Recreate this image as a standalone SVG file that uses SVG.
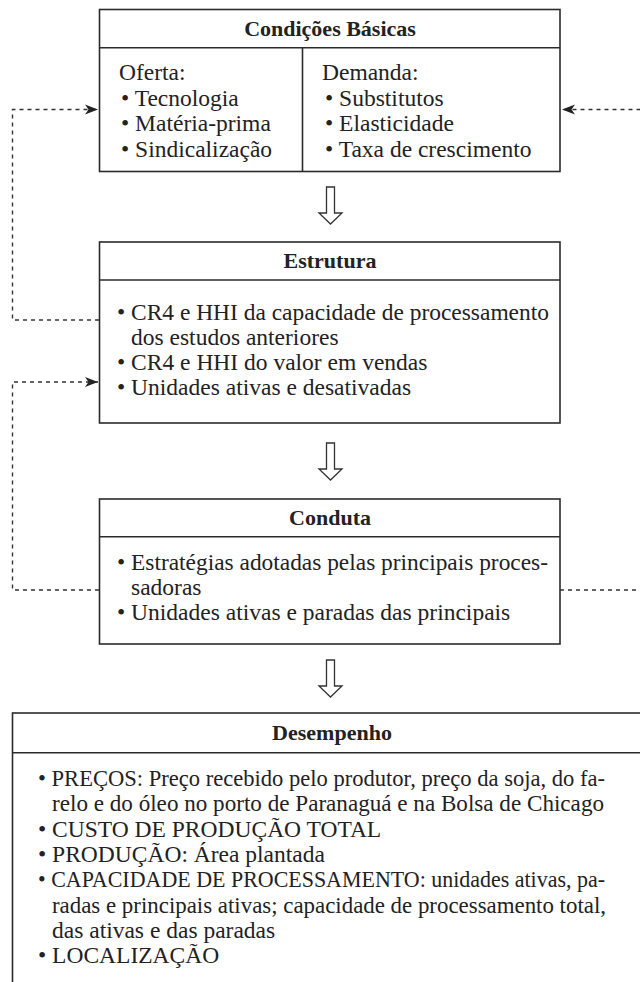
<svg xmlns="http://www.w3.org/2000/svg" width="640" height="982" viewBox="0 0 640 982">
<defs>
<style>
.box{fill:#fff;stroke:#2b2b2b;stroke-width:1.6}
.sep{stroke:#2b2b2b;stroke-width:1.6}
.t{font-family:'Liberation Serif','Times New Roman',serif;font-size:23.5px;fill:#222}
.s{font-size:22.3px}
.h{font-family:'Liberation Serif','Times New Roman',serif;font-size:22px;font-weight:bold;fill:#222;text-anchor:middle}
.dash{fill:none;stroke:#333;stroke-width:1.4;stroke-dasharray:4 4}
.hollow{fill:#fff;stroke:#333;stroke-width:1.3;stroke-linejoin:miter}
</style>
<marker id="ah" markerUnits="userSpaceOnUse" markerWidth="14" markerHeight="11" refX="13" refY="5.5" orient="auto">
<path d="M0,0.5 L13,5.5 L0,10.5 L3.5,5.5 Z" fill="#222"/>
</marker>
</defs>
<rect width="640" height="982" fill="#fff"/>

<g id="connectors">
<path class="dash" d="M99,320 H12.5 V109.5 H98" marker-end="url(#ah)"/>
<path class="dash" d="M99,590 H12.5 V382 H98" marker-end="url(#ah)"/>
<path class="dash" d="M560,590 H660 V109.5 H562" marker-end="url(#ah)"/>
<path class="hollow" d="M326.5,187 H334.5 V213 H342 L330.5,224 L319,213 H326.5 Z"/>
<path class="hollow" d="M326.5,443 H334.5 V469 H342 L330.5,480 L319,469 H326.5 Z"/>
<path class="hollow" d="M326.5,660 H334.5 V686 H342 L330.5,697 L319,686 H326.5 Z"/>
</g>

<g id="condicoes">
<rect class="box" x="99.5" y="9.5" width="460.5" height="162"/>
<line class="sep" x1="99.5" y1="47.7" x2="560" y2="47.7"/>
<line class="sep" x1="302.5" y1="47.7" x2="302.5" y2="171.5"/>
<text class="h" x="330" y="36">Condições Básicas</text>
<text class="t" x="119" y="80">Oferta:</text>
<text class="t" x="121" y="105.5">• Tecnologia</text>
<text class="t" x="121" y="131">• Matéria-prima</text>
<text class="t" x="121" y="156.5">• Sindicalização</text>
<text class="t" x="322" y="80">Demanda:</text>
<text class="t" x="325" y="105.5">• Substitutos</text>
<text class="t" x="325" y="131">• Elasticidade</text>
<text class="t" x="325" y="156.5">• Taxa de crescimento</text>
</g>

<g id="estrutura">
<rect class="box" x="99.5" y="242" width="460.5" height="181"/>
<line class="sep" x1="99.5" y1="280" x2="560" y2="280"/>
<text class="h" x="330" y="268">Estrutura</text>
<text class="t" x="117" y="320" textLength="432" lengthAdjust="spacingAndGlyphs">• CR4 e HHI da capacidade de processamento</text>
<text class="t" x="131" y="345">dos estudos anteriores</text>
<text class="t" x="117" y="370">• CR4 e HHI do valor em vendas</text>
<text class="t" x="117" y="395">• Unidades ativas e desativadas</text>
</g>

<g id="conduta">
<rect class="box" x="99.5" y="499" width="460.5" height="145"/>
<line class="sep" x1="99.5" y1="536.7" x2="560" y2="536.7"/>
<text class="h" x="330" y="525">Conduta</text>
<text class="t" x="117" y="570" textLength="431" lengthAdjust="spacingAndGlyphs">• Estratégias adotadas pelas principais proces-</text>
<text class="t" x="131" y="595">sadoras</text>
<text class="t" x="117" y="620">• Unidades ativas e paradas das principais</text>
</g>

<g id="desempenho">
<rect class="box" x="12.5" y="713" width="640" height="400"/>
<line class="sep" x1="12.5" y1="752.7" x2="652" y2="752.7"/>
<text class="h" x="332" y="740">Desempenho</text>
<text class="t s" x="38" y="786" textLength="567" lengthAdjust="spacingAndGlyphs">• PREÇOS: Preço recebido pelo produtor, preço da soja, do fa-</text>
<text class="t" x="52" y="811.3" textLength="552" lengthAdjust="spacingAndGlyphs">relo e do óleo no porto de Paranaguá e na Bolsa de Chicago</text>
<text class="t" x="38" y="836.6">• CUSTO DE PRODUÇÃO TOTAL</text>
<text class="t" x="38" y="861.9">• PRODUÇÃO: Área plantada</text>
<text class="t s" x="38" y="887.2" textLength="567" lengthAdjust="spacingAndGlyphs">• CAPACIDADE DE PROCESSAMENTO: unidades ativas, pa-</text>
<text class="t s" x="52" y="912.5" textLength="554" lengthAdjust="spacingAndGlyphs">radas e principais ativas; capacidade de processamento total,</text>
<text class="t" x="52" y="937.8">das ativas e das paradas</text>
<text class="t" x="38" y="963">• LOCALIZAÇÃO</text>
</g>
</svg>
